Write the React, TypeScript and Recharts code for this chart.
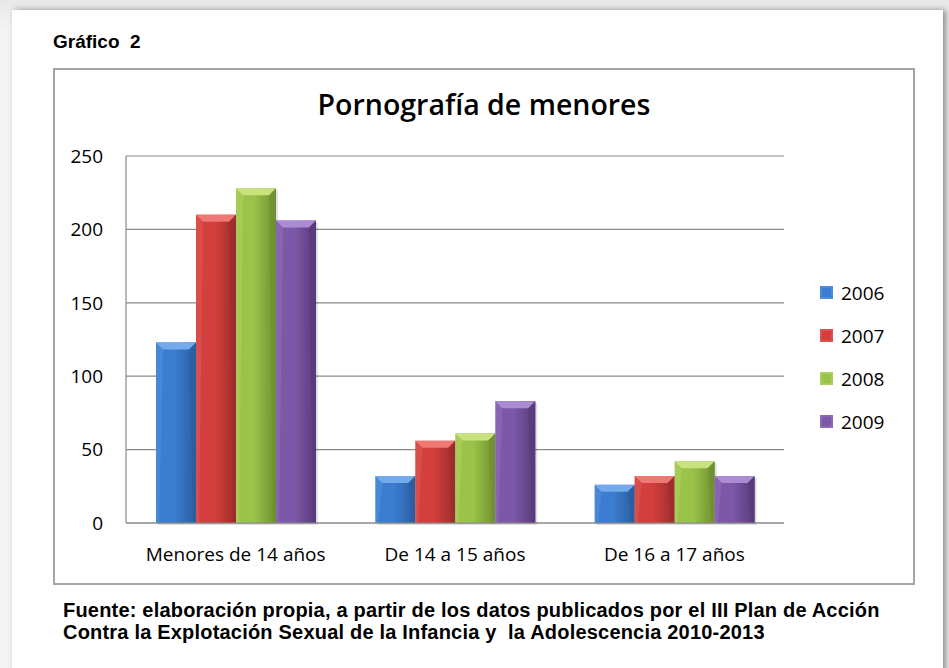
import { BarChart, Bar, XAxis, YAxis, CartesianGrid, Legend } from 'recharts'

// datos
const categorias = ['Menores de 14 años', 'De 14 a 15 años', 'De 16 a 17 años']
const anios = ['2006', '2007', '2008', '2009']
const valores2006 = [123, 32, 26]
const valores2007 = [210, 56, 32]
const valores2008 = [228, 61, 42]
const valores2009 = [206, 83, 32]
const ticksY = [0, 50, 100, 150, 200, 250]

const series = [valores2006, valores2007, valores2008, valores2009]

const colores: Record<string, { main: string; light: string; dark: string }> = {
  '2006': { main: '#3b7dd0', light: '#74aaec', dark: '#2b5e9f' },
  '2007': { main: '#d33f3c', light: '#f07773', dark: '#9c2d2b' },
  '2008': { main: '#9bc34a', light: '#c8e37e', dark: '#6e8f31' },
  '2009': { main: '#7d58a8', light: '#ab8cd2', dark: '#563b79' },
}

const data = categorias.map((cat, i) => {
  const row: Record<string, string | number> = { cat }
  anios.forEach((a, j) => {
    row[a] = series[j][i]
  })
  return row
})

const fuenteCalibri = '"Open Sans", "Noto Sans", sans-serif'

const BarraBisel = (props: any) => {
  const { x, y, width, height, anio } = props
  if (!height || height <= 0) return null
  const c = colores[anio]
  const b = Math.min(7, height / 2)
  return (
    <g>
      <rect x={x + 2} y={y + 2} width={width} height={height} fill="#000" opacity={0.12} />
      <rect x={x} y={y} width={width} height={height} fill={`url(#grad-${anio})`} />
      <polygon
        points={`${x},${y} ${x + width},${y} ${x + width - b},${y + b} ${x + b},${y + b}`}
        fill={c.light}
      />
      <polygon
        points={`${x + width},${y} ${x + width},${y + height} ${x + width - 3},${y + height} ${x + width - b},${y + b}`}
        fill={c.dark}
        opacity={0.6}
      />
      <polygon
        points={`${x},${y} ${x + b},${y + b} ${x + 3},${y + height} ${x},${y + height}`}
        fill={c.light}
        opacity={0.25}
      />
    </g>
  )
}

const Leyenda = () => (
  <div style={{ fontFamily: fuenteCalibri, fontSize: 19, color: '#000' }}>
    {anios.map((a) => (
      <div key={a} style={{ height: 43, display: 'flex', alignItems: 'center' }}>
        <span
          style={{
            display: 'inline-block',
            width: 13,
            height: 13,
            marginRight: 8,
            background: colores[a].main,
            boxShadow: `inset 0 0 0 2px ${colores[a].light}55`,
          }}
        />
        {a}
      </div>
    ))}
  </div>
)

export default function App() {
  return (
    <div
      style={{
        position: 'absolute',
        left: 0,
        top: 0,
        width: 949,
        height: 668,
        overflow: 'hidden',
        background: 'linear-gradient(#e8e8e8, #f4f4f4 30px, #f4f4f4)',
      }}
    >
      <div
        style={{
          position: 'absolute',
          left: 12,
          top: 10,
          width: 931,
          height: 680,
          background: '#fff',
          boxShadow: '3px 0 6px #8a8a8a',
        }}
      />
      <div
        style={{
          position: 'absolute',
          left: 53,
          top: 31,
          fontFamily: '"Liberation Sans", Arial, sans-serif',
          fontWeight: 'bold',
          fontSize: 19,
          whiteSpace: 'pre',
        }}
      >
        {'Gráfico  2'}
      </div>

      <div style={{ position: 'absolute', left: 53, top: 68 }}>
        <BarChart
          width={862}
          height={517}
          data={data}
          margin={{ top: 88, right: 131, bottom: 22, left: 0 }}
          barGap={0}
          barSize={40}
        >
          <defs>
            {anios.map((a) => (
              <linearGradient key={a} id={`grad-${a}`} x1="0" y1="0" x2="1" y2="0">
                <stop offset="0%" stopColor={colores[a].main} />
                <stop offset="45%" stopColor={colores[a].main} />
                <stop offset="100%" stopColor={colores[a].dark} />
              </linearGradient>
            ))}
          </defs>
          <CartesianGrid vertical={false} stroke="#8a8a8a" strokeWidth={1.2} />
          <XAxis
            dataKey="cat"
            tickLine={false}
            tickSize={0}
            tickMargin={25}
            height={40}
            axisLine={{ stroke: '#8a8a8a', strokeWidth: 1.2 }}
            tick={{ fill: '#000', fontSize: 19, fontFamily: fuenteCalibri }}
          />
          <YAxis
            domain={[0, 250]}
            ticks={ticksY}
            width={73}
            tickLine={false}
            tickSize={0}
            tickMargin={23}
            axisLine={{ stroke: '#8a8a8a', strokeWidth: 1.2 }}
            tick={{ fill: '#000', fontSize: 19, fontFamily: fuenteCalibri }}
          />
          <Legend
            layout="horizontal"
            align="center"
            verticalAlign="middle"
            content={() => <Leyenda />}
            wrapperStyle={{ left: 767, top: 203, width: 90 }}
          />
          {anios.map((a) => (
            <Bar
              key={a}
              dataKey={a}
              fill={colores[a].main}
              isAnimationActive={false}
              shape={(p: any) => <BarraBisel {...p} anio={a} />}
            />
          ))}
        </BarChart>
        <div
          style={{
            position: 'absolute',
            left: 0,
            top: 0,
            width: 858,
            height: 513,
            border: '2px solid #a4a4a4',
            pointerEvents: 'none',
          }}
        />
        <div
          style={{
            position: 'absolute',
            left: 0,
            top: 17,
            width: 862,
            textAlign: 'center',
            fontFamily: fuenteCalibri,
            fontWeight: 600,
            fontSize: 28.5,
            color: '#000',
            pointerEvents: 'none',
          }}
        >
          Pornografía de menores
        </div>
      </div>

      <div
        style={{
          position: 'absolute',
          left: 63,
          top: 599,
          fontFamily: '"Liberation Sans", Arial, sans-serif',
          fontWeight: 'bold',
          fontSize: 20,
          letterSpacing: 0.2,
          lineHeight: '22px',
          whiteSpace: 'pre',
          color: '#000',
        }}
      >
        {'Fuente: elaboración propia, a partir de los datos publicados por el III Plan de Acción\nContra la Explotación Sexual de la Infancia y  la Adolescencia 2010-2013'}
      </div>
    </div>
  )
}
